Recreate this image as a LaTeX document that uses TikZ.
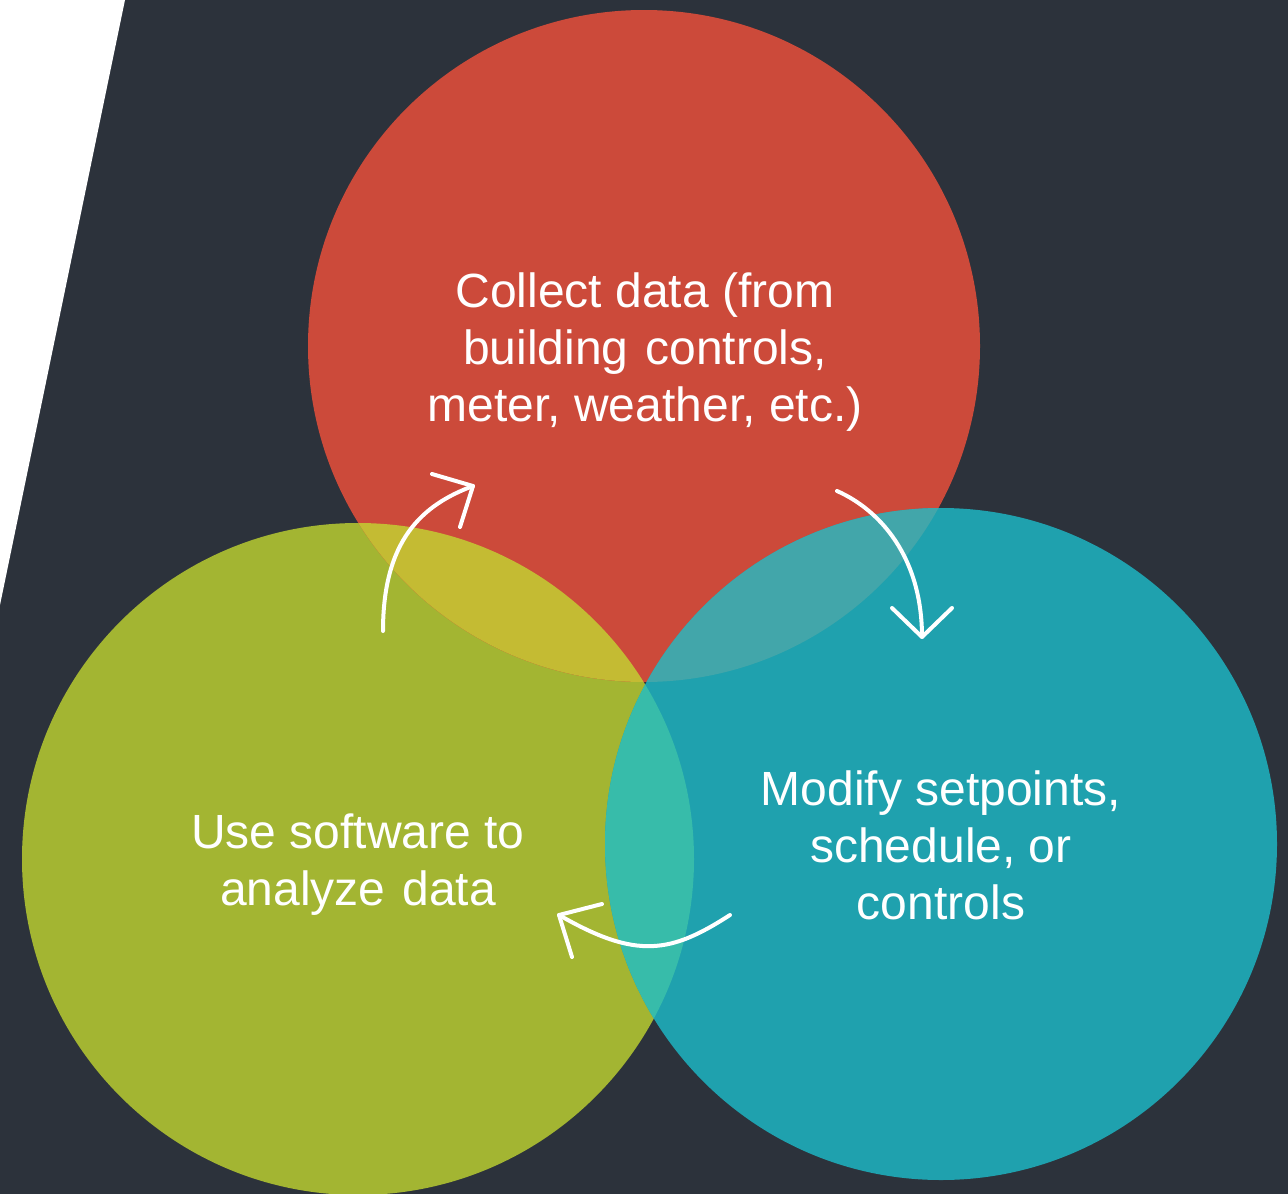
\documentclass[tikz,border=0pt]{standalone}
\usepackage{fontspec}
\setmainfont{Liberation Sans}
\definecolor{bg}{HTML}{2C323B}
\definecolor{cred}{HTML}{CC4A3A}
\definecolor{cgreen}{HTML}{A3B532}
\definecolor{cteal}{HTML}{1FA1AE}
\definecolor{crg}{HTML}{C4BB33}
\definecolor{crt}{HTML}{42A6AA}
\definecolor{cgt}{HTML}{37BCAA}
\tikzset{
  txt/.style={text=white, align=center, inner sep=0pt, font=\fontsize{48}{57}\selectfont},
  arr/.style={draw=white, line width=4pt, line cap=round, line join=round},
}
\begin{document}
\begin{tikzpicture}[x=1pt,y=-1pt]
\useasboundingbox (0,0) rectangle (1288,1194);
\clip (0,0) rectangle (1288,1194);
\fill[bg] (0,0) rectangle (1288,1194);
\fill[white] (0,0) -- (125,0) -- (0,605) -- cycle;
% circles
\fill[cgreen] (358,859) circle[radius=336];
\fill[cred] (644,346) circle[radius=336];
\fill[cteal] (941,844) circle[radius=336];
% overlaps
\begin{scope}
  \clip (644,346) circle[radius=336];
  \fill[crg] (358,859) circle[radius=336];
\end{scope}
\begin{scope}
  \clip (644,346) circle[radius=336];
  \fill[crt] (941,844) circle[radius=336];
\end{scope}
\begin{scope}
  \clip (358,859) circle[radius=336];
  \fill[cgt] (941,844) circle[radius=336];
\end{scope}
% texts (base anchor = baseline of last line)
\node[txt, anchor=base] (collect) at (645,421) {Collect data (from\\building\hspace{17pt}controls,\\meter, weather, etc.)};
\node[txt, anchor=base] (analyze) at (358,905) {Use software to\\analyze\hspace{17pt}data};
\node[txt, anchor=base] (modify) at (941,919) {Modify setpoints,\\schedule, or\\controls};
% arrow 1
\coordinate (a1s) at (383,631);
\coordinate (a1t) at (473,486);
\coordinate (a1l) at (432,474);
\coordinate (a1r) at (460,527);
\draw[arr] (a1s) .. controls (383,540) and (422,505) .. (a1t);
\draw[arr] (a1l) -- (a1t) -- (a1r);
% arrow 2
\coordinate (a2s) at (837,491);
\coordinate (a2t) at (922,637);
\coordinate (a2l) at (892,608);
\coordinate (a2r) at (952,608);
\draw[arr] (a2s) .. controls (880,510) and (922,557) .. (a2t);
\draw[arr] (a2l) -- (a2t) -- (a2r);
% arrow 3
\coordinate (a3s) at (730,915);
\coordinate (a3t) at (559,915);
\coordinate (a3l) at (602,904);
\coordinate (a3r) at (572,957);
\draw[arr] (a3s) .. controls (671,953) and (637,960) .. (a3t);
\draw[arr] (a3l) -- (a3t) -- (a3r);
\end{tikzpicture}
\end{document}
